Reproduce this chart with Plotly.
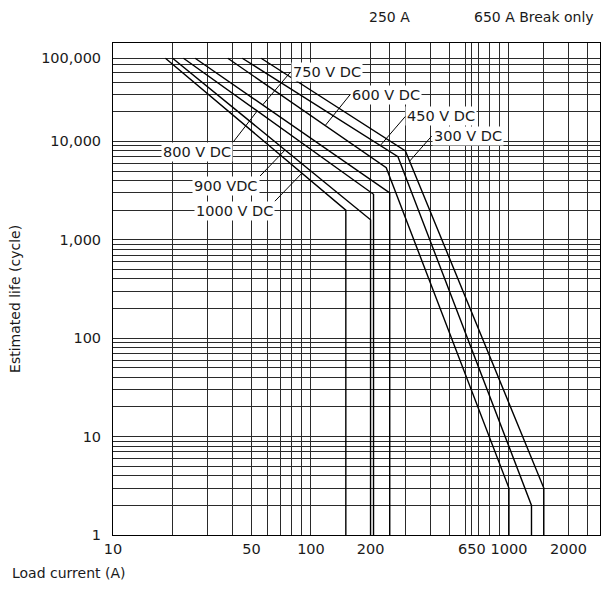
"""Estimated electrical life vs load current for a DC contactor, recreated with Plotly."""

import numpy as np
import plotly.graph_objects as go

# curves: load current (A) -> estimated life (cycles)
# each curve ends with a vertical drop to the bottom of the grid
current_1000v = [18.4, 150, 150]
life_1000v = [70000, 2000, 1]
current_900v = [20, 200, 200]
life_900v = [70000, 1600, 1]
current_800v = [22.7, 207, 207]
life_800v = [70000, 2900, 1]
current_750v = [26, 250, 250]
life_750v = [70000, 3000, 1]
current_600v = [38, 240, 1000, 1000]
life_600v = [70000, 5400, 3, 1]
current_450v = [45, 275, 1300, 1300]
life_450v = [70000, 7000, 2, 1]
current_300v = [56, 300, 1500, 1500]
life_300v = [70000, 8000, 3, 1]

curve_labels = ["1000 V DC", "900 VDC", "800 V DC", "750 V DC", "600 V DC", "450 V DC", "300 V DC"]
# current where each label's leader line touches its curve
leader_current = [90, 74, 53.5, 57, 118, 224, 315]

x_tickvals = [10, 50, 100, 200, 650, 1000, 2000]
x_ticktext = ["10", "50", "100", "200", "650", "1000", "2000"]
x_minor = [20, 30, 40, 60, 70, 80, 90, 250, 300, 400, 500, 600, 700, 800, 900, 1500, 2500]

# the source prints "100,000" against the grid line where the curves start
y_tickvals = [1, 10, 100, 1000, 10000, 70000]
y_ticktext = ["1", "10", "100", "1,000", "10,000", "100,000"]
y_minor = [m * 10 ** k for k in range(4) for m in range(2, 10)] + [20000, 30000, 40000, 50000, 60000]

curves = [
    (current_1000v, life_1000v),
    (current_900v, life_900v),
    (current_800v, life_800v),
    (current_750v, life_750v),
    (current_600v, life_600v),
    (current_450v, life_450v),
    (current_300v, life_300v),
]

# label placement: pixel offset of the leader tail from the curve point, text anchor
label_style = [
    (-27, 28, "right", "top"),
    (-25, 26, "right", "top"),
    (-24, 31, "right", "top"),
    (28, -33, "left", "middle"),
    (25, -31, "left", "middle"),
    (25, -29, "left", "middle"),
    (22, -25, "left", "middle"),
]

FONT = "DejaVu Sans"
INK = "#1a1a1a"
GRID = "#2a2a2a"


def log_life_at(current, xs, ys):
    # position along the sloped part of a curve, in log10 units (annotation coords)
    lx = np.log10(xs[:-1])
    ly = np.log10(ys[:-1])
    return float(np.interp(np.log10(current), lx, ly))


fig = go.Figure()
for xs, ys in curves:
    fig.add_trace(go.Scatter(
        x=xs,
        y=ys,
        mode="lines",
        line=dict(color="black", width=1.4),
        showlegend=False,
        hoverinfo="x+y",
    ))

annotations = []
for (xs, ys), text, cur, (ax, ay, xa, ya) in zip(curves, curve_labels, leader_current, label_style):
    annotations.append(dict(
        x=float(np.log10(cur)),
        y=log_life_at(cur, xs, ys),
        xref="x",
        yref="y",
        text=text,
        showarrow=True,
        arrowhead=0,
        arrowwidth=1,
        arrowcolor="black",
        ax=ax,
        ay=ay,
        xanchor=xa,
        yanchor=ya,
        bgcolor="white",
        borderpad=1,
        font=dict(family=FONT, size=14.5, color=INK),
    ))

# header labels above the 250 A and 650 A lines
annotations.append(dict(
    x=float(np.log10(250)), y=1.052, xref="x", yref="paper",
    text="250 A", showarrow=False, xanchor="center", yanchor="middle",
    font=dict(family=FONT, size=14, color=INK),
))
annotations.append(dict(
    x=float(np.log10(650)), y=1.052, xref="x", yref="paper",
    text="650 A Break only", showarrow=False, xanchor="left", yanchor="middle",
    font=dict(family=FONT, size=14, color=INK),
))
# axis titles
annotations.append(dict(
    x=-0.2115, y=-0.077, xref="paper", yref="paper",
    text="Load current (A)", showarrow=False, xanchor="left", yanchor="middle",
    font=dict(family=FONT, size=14, color=INK),
))
annotations.append(dict(
    x=-0.201, y=0.48, xref="paper", yref="paper",
    text="Estimated life (cycle)", showarrow=False, textangle=-90,
    xanchor="center", yanchor="middle",
    font=dict(family=FONT, size=14, color=INK),
))

fig.update_layout(
    width=602,
    height=595,
    margin=dict(l=113, r=2, t=43, b=60),
    paper_bgcolor="white",
    plot_bgcolor="white",
    font=dict(family=FONT, size=14, color=INK),
    annotations=annotations,
    showlegend=False,
)
fig.update_xaxes(
    type="log",
    range=[1, 3.46],
    tickvals=x_tickvals,
    ticktext=x_ticktext,
    ticks="",
    ticklabelstandoff=1,
    tickfont=dict(family=FONT, size=14.5, color=INK),
    showgrid=True,
    gridcolor=GRID,
    gridwidth=1,
    minor=dict(tickvals=x_minor, showgrid=True, gridcolor=GRID, gridwidth=1, ticks=""),
    showline=True,
    mirror=True,
    linecolor="black",
    linewidth=1,
    zeroline=False,
)
fig.update_yaxes(
    type="log",
    range=[0, 5],
    tickvals=y_tickvals,
    ticktext=y_ticktext,
    ticks="",
    ticklabelstandoff=8,
    tickfont=dict(family=FONT, size=14.5, color=INK),
    showgrid=True,
    gridcolor=GRID,
    gridwidth=1,
    minor=dict(tickvals=y_minor, showgrid=True, gridcolor=GRID, gridwidth=1, ticks=""),
    showline=True,
    mirror=True,
    linecolor="black",
    linewidth=1,
    zeroline=False,
)

# drop the browser's default 8px page margin so the figure sits at the window origin
fig.write_html(
    "out.html",
    config={"displayModeBar": False},
    post_script="document.body.style.margin = '0';",
)
